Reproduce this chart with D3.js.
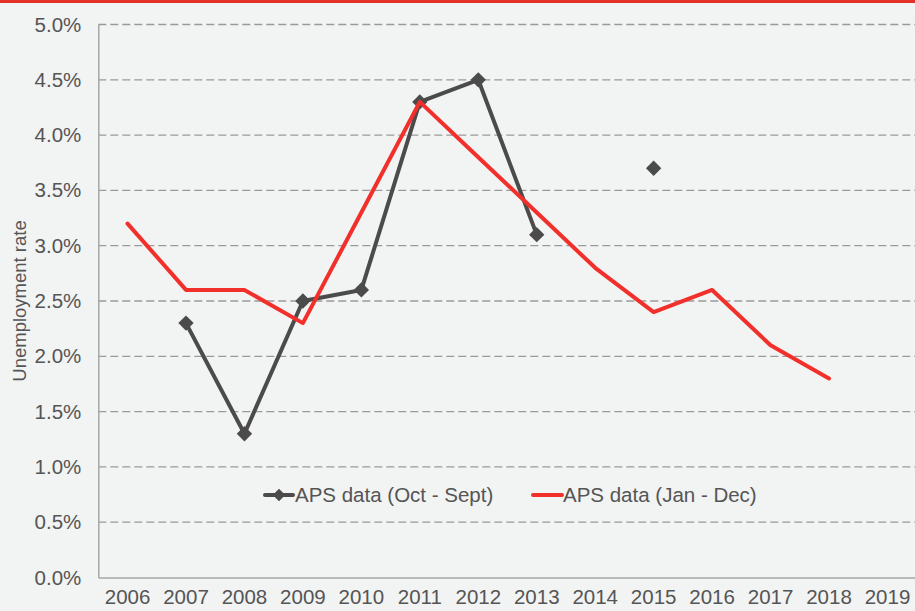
<!DOCTYPE html>
<html>
<head>
<meta charset="utf-8">
<script src="https://cdnjs.cloudflare.com/ajax/libs/d3/7.8.5/d3.min.js"></script>
<style>
  html, body { margin: 0; padding: 0; background: #f2f3f3; }
  svg { display: block; font-family: "Liberation Sans", Arial, sans-serif; }
  .tick-label { fill: #555555; font-size: 20.5px; }
</style>
</head>
<body>
<div id="chart"></div>
<script>
// years on the category axis
const years = ["2006","2007","2008","2009","2010","2011","2012","2013","2014","2015","2016","2017","2018","2019"];
// APS data (Oct - Sept), null where no value
const apsOctSept = [null, 2.3, 1.3, 2.5, 2.6, 4.3, 4.5, 3.1, null, 3.7, null, null, null, null];
// APS data (Jan - Dec)
const apsJanDec = [3.2, 2.6, 2.6, 2.3, 3.3, 4.3, 3.8, 3.3, 2.8, 2.4, 2.6, 2.1, 1.8, null];
const yTicks = [0, 0.5, 1, 1.5, 2, 2.5, 3, 3.5, 4, 4.5, 5];
const seriesNames = ["APS data (Oct - Sept)", "APS data (Jan - Dec)"];

const W = 915, H = 611;
const margin = {top: 24.5, right: -1.7, bottom: 33.5, left: 98.3};
const grey = "#4b4b4b", red = "#f2302b";

const svg = d3.select("#chart").append("svg")
    .attr("width", W).attr("height", H);

svg.append("rect").attr("width", W).attr("height", H).attr("fill", "#f2f3f3");
// red strip across the top
svg.append("rect").attr("x", 0).attr("y", 0).attr("width", W).attr("height", 3).attr("fill", "#e4322b");

const x = d3.scaleBand().domain(years).range([margin.left, W - margin.right]);
const y = d3.scaleLinear().domain([0, 5]).range([H - margin.bottom, margin.top]);
const cx = d => x(d) + x.bandwidth() / 2;

// gridlines
svg.append("g").selectAll("line")
    .data(yTicks.filter(d => d > 0))
    .join("line")
    .attr("x1", margin.left).attr("x2", W)
    .attr("y1", d => y(d)).attr("y2", d => y(d))
    .attr("stroke", "#9a9a9a").attr("stroke-width", 1.3)
    .attr("stroke-dasharray", "8,4");

// y axis
const yAxis = svg.append("g")
    .attr("transform", `translate(${margin.left},0)`)
    .call(d3.axisLeft(y).tickValues(yTicks).tickSize(0).tickPadding(17)
        .tickFormat(d => d.toFixed(1) + "%"));
yAxis.select(".domain").attr("stroke", "#a6a6a6").attr("stroke-width", 1.5);
yAxis.selectAll("text").attr("class", "tick-label").attr("font-size", null).attr("font-family", null);

// x axis
const xAxis = svg.append("g")
    .attr("transform", `translate(0,${y(0)})`)
    .call(d3.axisBottom(x).tickSize(0).tickPadding(12));
xAxis.select(".domain").attr("stroke", "#a6a6a6").attr("stroke-width", 1.5);
xAxis.selectAll("text").attr("class", "tick-label").attr("font-size", null).attr("font-family", null);

// axis title
svg.append("text")
    .attr("transform", `translate(26,${(y(0) + y(5)) / 2}) rotate(-90)`)
    .attr("text-anchor", "middle")
    .attr("fill", "#555555").attr("font-size", 18.5)
    .text("Unemployment rate");

const line = vals => d3.line()
    .defined((d, i) => vals[i] !== null)
    .x((d, i) => cx(years[i]))
    .y((d, i) => y(vals[i]))(vals);

const diamond = d3.symbol().type(d3.symbolDiamond2).size(150);

// Oct - Sept series
svg.append("path")
    .attr("d", line(apsOctSept))
    .attr("fill", "none").attr("stroke", grey).attr("stroke-width", 4)
    .attr("stroke-linejoin", "round");
svg.append("g").selectAll("path")
    .data(years.filter((d, i) => apsOctSept[i] !== null))
    .join("path")
    .attr("d", diamond)
    .attr("transform", d => `translate(${cx(d)},${y(apsOctSept[years.indexOf(d)])})`)
    .attr("fill", grey);

// Jan - Dec series
svg.append("path")
    .attr("d", line(apsJanDec))
    .attr("fill", "none").attr("stroke", red).attr("stroke-width", 4)
    .attr("stroke-linejoin", "round").attr("stroke-linecap", "round");

// legend
const legend = svg.append("g").attr("transform", "translate(265,495)");
legend.append("line").attr("x1", 0).attr("x2", 28).attr("stroke", grey).attr("stroke-width", 4)
    .attr("stroke-linecap", "round");
legend.append("path").attr("d", diamond.size(100)).attr("transform", "translate(14,0)").attr("fill", grey);
legend.append("text").attr("x", 30).attr("dy", "0.35em").attr("class", "tick-label").text(seriesNames[0]);
legend.append("line").attr("x1", 268).attr("x2", 297).attr("stroke", red).attr("stroke-width", 4)
    .attr("stroke-linecap", "round");
legend.append("text").attr("x", 298).attr("dy", "0.35em").attr("class", "tick-label").text(seriesNames[1]);
</script>
</body>
</html>
